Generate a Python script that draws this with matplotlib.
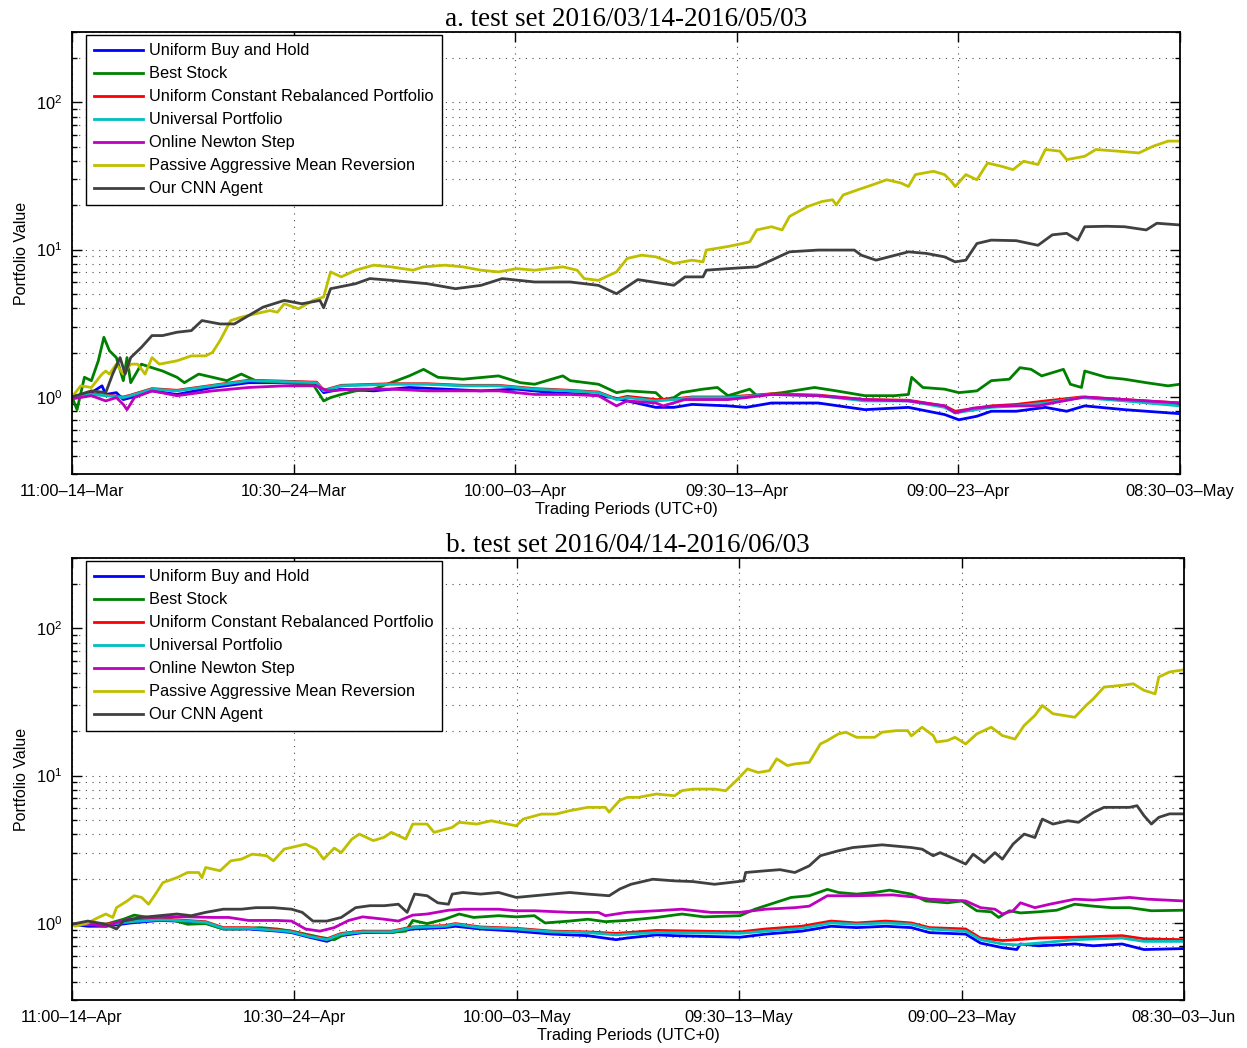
import matplotlib
matplotlib.use("Agg")
import matplotlib.pyplot as plt
from matplotlib.ticker import LogLocator, NullFormatter, FixedLocator

plt.rcParams['font.family'] = ['Liberation Sans', 'DejaVu Sans']

# period index = 30 min trading periods since the first tick
tick_pos = [0, 479, 958, 1437, 1916, 2395]
a_ticklabels = ['11:00–14–Mar', '10:30–24–Mar', '10:00–03–Apr',
                '09:30–13–Apr', '09:00–23–Apr', '08:30–03–May']
b_ticklabels = ['11:00–14–Apr', '10:30–24–Apr', '10:00–03–May',
                '09:30–13–May', '09:00–23–May', '08:30–03–Jun']

names = ['Uniform Buy and Hold', 'Best Stock', 'Uniform Constant Rebalanced Portfolio',
         'Universal Portfolio', 'Online Newton Step', 'Passive Aggressive Mean Reversion',
         'Our CNN Agent']
colors = ['#0000ff', '#008000', '#ff0000', '#00bfbf', '#bf00bf', '#bfbf00', '#404040']

# ---- panel a: (period, portfolio value)
a_ubah = [(0, 1.0), (42, 1.07), (65, 1.19), (73, 1.04), (96, 1.07), (111, 0.96), (127, 0.99),
          (173, 1.10), (227, 1.04), (304, 1.16), (382, 1.25), (459, 1.25), (529, 1.22), (544, 1.07),
          (582, 1.13), (652, 1.10), (729, 1.16), (806, 1.13), (884, 1.10), (961, 1.13), (1038, 1.07),
          (1115, 1.04), (1169, 0.99), (1200, 0.94), (1262, 0.85), (1301, 0.85), (1340, 0.89),
          (1418, 0.87), (1457, 0.85), (1512, 0.91), (1613, 0.91), (1714, 0.82), (1808, 0.85),
          (1886, 0.76), (1917, 0.70), (1956, 0.74), (1987, 0.80), (2041, 0.80), (2104, 0.85),
          (2150, 0.80), (2189, 0.87), (2275, 0.82), (2395, 0.77)]
a_best = [(0, 1.0), (11, 0.82), (27, 1.36), (42, 1.29), (57, 1.76), (69, 2.54), (81, 2.06), (96, 1.85),
          (111, 1.29), (119, 1.85), (127, 1.25), (150, 1.67), (173, 1.58), (196, 1.50), (227, 1.36),
          (243, 1.25), (274, 1.43), (304, 1.36), (335, 1.29), (366, 1.43), (397, 1.29), (459, 1.25),
          (521, 1.22), (544, 0.94), (559, 0.99), (582, 1.04), (613, 1.10), (652, 1.13), (690, 1.25),
          (729, 1.39), (760, 1.54), (791, 1.36), (845, 1.32), (922, 1.39), (969, 1.25), (1000, 1.22),
          (1061, 1.39), (1077, 1.29), (1138, 1.22), (1177, 1.07), (1200, 1.10), (1262, 1.07),
          (1278, 0.96), (1301, 0.99), (1317, 1.07), (1364, 1.13), (1395, 1.16), (1418, 1.02),
          (1465, 1.13), (1480, 1.02), (1535, 1.07), (1605, 1.16), (1652, 1.10), (1714, 1.02),
          (1777, 1.02), (1808, 1.04), (1815, 1.36), (1839, 1.16), (1886, 1.13), (1917, 1.07),
          (1956, 1.10), (1987, 1.29), (2026, 1.32), (2049, 1.58), (2073, 1.54), (2096, 1.39),
          (2143, 1.54), (2158, 1.22), (2182, 1.16), (2189, 1.50), (2236, 1.36), (2275, 1.32),
          (2322, 1.25), (2369, 1.19), (2395, 1.22)]
a_ucrp = [(0, 1.0), (42, 1.05), (73, 1.03), (111, 1.0), (127, 1.03), (173, 1.14), (227, 1.11),
          (304, 1.20), (382, 1.30), (459, 1.28), (529, 1.26), (544, 1.11), (582, 1.20), (690, 1.23),
          (768, 1.23), (845, 1.20), (922, 1.20), (1000, 1.14), (1077, 1.11), (1138, 1.08),
          (1177, 0.97), (1200, 1.01), (1262, 0.96), (1301, 0.97), (1340, 1.0), (1418, 1.0),
          (1512, 1.05), (1613, 1.03), (1714, 0.96), (1808, 0.95), (1886, 0.87), (1909, 0.80),
          (1987, 0.87), (2041, 0.89), (2104, 0.94), (2182, 1.0), (2275, 0.96), (2395, 0.91)]
a_up = [(0, 1.0), (42, 1.04), (73, 1.02), (111, 0.99), (127, 1.02), (173, 1.13), (227, 1.10),
        (304, 1.19), (382, 1.29), (459, 1.27), (529, 1.25), (544, 1.10), (582, 1.19), (690, 1.22),
        (768, 1.22), (845, 1.19), (922, 1.19), (1000, 1.13), (1077, 1.10), (1138, 1.07),
        (1177, 0.96), (1200, 0.99), (1262, 0.94), (1301, 0.96), (1340, 0.99), (1418, 0.99),
        (1512, 1.04), (1613, 1.02), (1714, 0.94), (1808, 0.94), (1886, 0.85), (1909, 0.78),
        (1987, 0.85), (2041, 0.87), (2104, 0.91), (2182, 0.99), (2275, 0.94), (2395, 0.87)]
a_ons = [(0, 0.97), (42, 1.02), (73, 0.94), (96, 0.99), (111, 0.89), (119, 0.82), (135, 0.99),
         (173, 1.10), (227, 1.02), (304, 1.10), (382, 1.16), (459, 1.19), (529, 1.19), (552, 1.10),
         (613, 1.13), (690, 1.13), (768, 1.10), (845, 1.10), (922, 1.10), (1000, 1.04),
         (1077, 1.04), (1138, 1.02), (1177, 0.87), (1200, 0.94), (1262, 0.91), (1278, 0.87),
         (1325, 0.96), (1418, 0.96), (1457, 0.99), (1512, 1.04), (1613, 1.02), (1714, 0.96),
         (1808, 0.94), (1886, 0.87), (1909, 0.78), (1948, 0.84), (2004, 0.87), (2088, 0.87),
         (2119, 0.91), (2189, 1.0), (2275, 0.96), (2395, 0.91)]
a_pamr = [(0, 1.0), (19, 1.19), (42, 1.16), (65, 1.43), (73, 1.50), (81, 1.43), (96, 1.67),
          (111, 1.43), (127, 1.67), (142, 1.67), (158, 1.43), (173, 1.85), (189, 1.67), (227, 1.76),
          (258, 1.90), (289, 1.90), (304, 2.01), (320, 2.41), (343, 3.30), (366, 3.48), (397, 3.67),
          (428, 3.86), (444, 3.76), (459, 4.29), (490, 3.97), (521, 4.52), (544, 4.77), (559, 7.06),
          (582, 6.53), (613, 7.25), (652, 7.84), (690, 7.64), (737, 7.25), (760, 7.64), (806, 7.84),
          (845, 7.64), (884, 7.25), (922, 7.06), (961, 7.43), (1000, 7.25), (1061, 7.64),
          (1092, 7.25), (1107, 6.36), (1138, 6.19), (1177, 7.06), (1200, 8.71), (1231, 9.17),
          (1262, 8.93), (1301, 8.05), (1340, 8.48), (1364, 8.26), (1371, 9.93), (1418, 10.5),
          (1449, 11.0), (1465, 11.3), (1480, 13.6), (1512, 14.3), (1535, 13.6), (1551, 16.8),
          (1590, 19.6), (1621, 21.2), (1644, 21.8), (1652, 20.1), (1667, 23.5), (1699, 25.5),
          (1730, 27.5), (1761, 29.8), (1792, 28.3), (1808, 26.8), (1823, 32.3), (1862, 34.0),
          (1886, 32.3), (1901, 29.0), (1909, 26.8), (1932, 32.3), (1956, 29.8), (1979, 38.7),
          (2010, 36.7), (2034, 34.9), (2057, 39.8), (2088, 37.8), (2104, 47.8), (2135, 46.6),
          (2150, 40.8), (2189, 43.0), (2213, 47.8), (2260, 46.6), (2306, 45.3), (2337, 50.3),
          (2369, 54.5), (2395, 54.5)]
a_cnn = [(0, 1.0), (42, 1.10), (73, 1.07), (88, 1.43), (104, 1.85), (115, 1.43), (127, 1.85),
         (150, 2.17), (173, 2.61), (196, 2.61), (227, 2.75), (258, 2.82), (281, 3.30), (320, 3.13),
         (351, 3.13), (382, 3.57), (413, 4.07), (459, 4.52), (497, 4.29), (536, 4.52), (544, 4.03),
         (559, 5.43), (613, 5.87), (644, 6.36), (690, 6.19), (768, 5.87), (829, 5.43), (884, 5.72),
         (930, 6.36), (1000, 6.03), (1077, 6.03), (1138, 5.72), (1177, 5.02), (1223, 6.26),
         (1301, 5.73), (1325, 6.53), (1364, 6.53), (1371, 7.25), (1418, 7.43), (1480, 7.64),
         (1512, 8.48), (1551, 9.66), (1613, 9.93), (1691, 9.93), (1706, 9.17), (1738, 8.48),
         (1808, 9.66), (1847, 9.42), (1886, 8.93), (1909, 8.26), (1932, 8.48), (1956, 11.0),
         (1987, 11.6), (2041, 11.5), (2088, 10.7), (2119, 12.6), (2150, 12.9), (2174, 11.6),
         (2189, 14.3), (2236, 14.4), (2275, 14.3), (2322, 13.6), (2345, 15.1), (2395, 14.7)]

# ---- panel b
b_ubah = [(0, 0.98), (34, 0.95), (73, 0.95), (127, 1.0), (188, 1.04), (226, 1.03), (288, 1.0),
          (326, 0.91), (380, 0.91), (442, 0.88), (473, 0.86), (511, 0.80), (549, 0.75), (580, 0.82),
          (626, 0.86), (688, 0.86), (734, 0.91), (803, 0.93), (826, 0.95), (880, 0.91), (957, 0.88),
          (1034, 0.84), (1111, 0.82), (1172, 0.77), (1195, 0.79), (1259, 0.83), (1298, 0.82),
          (1439, 0.80), (1494, 0.84), (1572, 0.88), (1635, 0.95), (1690, 0.93), (1753, 0.95),
          (1808, 0.93), (1847, 0.86), (1925, 0.84), (1957, 0.73), (2004, 0.68), (2035, 0.66),
          (2043, 0.72), (2082, 0.70), (2160, 0.72), (2200, 0.70), (2262, 0.72), (2309, 0.66),
          (2395, 0.67)]
b_best = [(0, 0.98), (34, 1.0), (73, 0.98), (111, 1.06), (134, 1.13), (165, 1.09), (211, 1.06),
          (249, 0.98), (288, 0.99), (326, 0.91), (365, 0.91), (404, 0.93), (442, 0.91), (473, 0.88),
          (503, 0.84), (534, 0.80), (565, 0.77), (588, 0.84), (626, 0.88), (673, 0.86), (719, 0.88),
          (734, 1.04), (765, 0.99), (803, 1.06), (834, 1.15), (865, 1.09), (919, 1.12), (957, 1.10),
          (996, 1.12), (1019, 1.0), (1072, 1.03), (1111, 1.06), (1149, 1.02), (1195, 1.04),
          (1259, 1.09), (1314, 1.15), (1361, 1.10), (1439, 1.12), (1471, 1.24), (1549, 1.49),
          (1588, 1.53), (1627, 1.69), (1651, 1.61), (1690, 1.57), (1729, 1.61), (1761, 1.67),
          (1808, 1.57), (1839, 1.41), (1886, 1.37), (1917, 1.41), (1949, 1.21), (1980, 1.19),
          (1996, 1.09), (2019, 1.21), (2043, 1.17), (2082, 1.19), (2121, 1.22), (2160, 1.34),
          (2200, 1.30), (2239, 1.27), (2278, 1.27), (2325, 1.21), (2395, 1.22)]
b_ucrp = [(0, 0.98), (73, 0.98), (127, 1.03), (188, 1.06), (226, 1.05), (288, 1.02), (326, 0.93),
          (380, 0.93), (442, 0.90), (473, 0.88), (511, 0.82), (549, 0.78), (580, 0.85), (626, 0.88),
          (688, 0.88), (734, 0.94), (803, 0.96), (826, 0.99), (880, 0.94), (957, 0.92), (1034, 0.88),
          (1111, 0.87), (1172, 0.85), (1195, 0.86), (1259, 0.89), (1439, 0.87), (1494, 0.91),
          (1572, 0.95), (1635, 1.03), (1690, 1.0), (1753, 1.03), (1808, 1.0), (1847, 0.93),
          (1925, 0.91), (1957, 0.79), (2004, 0.76), (2035, 0.77), (2082, 0.79), (2160, 0.80),
          (2262, 0.82), (2309, 0.78), (2395, 0.77)]
b_up = [(0, 0.98), (73, 0.97), (127, 1.02), (188, 1.05), (226, 1.04), (288, 1.01), (326, 0.92),
        (380, 0.92), (442, 0.89), (473, 0.87), (511, 0.81), (549, 0.77), (580, 0.84), (626, 0.87),
        (688, 0.87), (734, 0.93), (803, 0.95), (826, 0.98), (880, 0.93), (957, 0.91), (1034, 0.87),
        (1111, 0.86), (1172, 0.83), (1195, 0.84), (1259, 0.86), (1439, 0.85), (1494, 0.88),
        (1572, 0.92), (1635, 1.0), (1690, 0.98), (1753, 1.0), (1808, 0.98), (1847, 0.91),
        (1925, 0.88), (1957, 0.77), (2004, 0.72), (2035, 0.71), (2082, 0.73), (2160, 0.77),
        (2262, 0.79), (2309, 0.75), (2395, 0.75)]
b_ons = [(0, 0.98), (34, 0.98), (73, 0.95), (111, 1.04), (150, 1.09), (211, 1.10), (249, 1.10),
         (304, 1.09), (338, 1.09), (380, 1.04), (442, 1.04), (473, 1.03), (503, 0.91), (534, 0.88),
         (565, 0.93), (596, 1.04), (626, 1.10), (673, 1.06), (703, 1.03), (734, 1.13), (765, 1.15),
         (811, 1.22), (842, 1.24), (919, 1.24), (957, 1.21), (996, 1.21), (1072, 1.18), (1134, 1.18),
         (1149, 1.12), (1195, 1.18), (1259, 1.21), (1314, 1.24), (1376, 1.18), (1439, 1.18),
         (1494, 1.24), (1557, 1.27), (1588, 1.30), (1627, 1.53), (1690, 1.53), (1768, 1.55),
         (1823, 1.49), (1847, 1.45), (1925, 1.41), (1957, 1.27), (1988, 1.24), (2004, 1.15),
         (2027, 1.21), (2043, 1.37), (2074, 1.27), (2106, 1.34), (2160, 1.45), (2200, 1.43),
         (2278, 1.49), (2317, 1.45), (2395, 1.41)]
b_pamr = [(0, 0.98), (7, 0.95), (34, 1.0), (57, 1.09), (73, 1.15), (88, 1.09), (96, 1.27),
          (119, 1.41), (134, 1.53), (150, 1.49), (165, 1.34), (180, 1.57), (196, 1.88), (226, 2.03),
          (249, 2.20), (273, 2.20), (280, 2.03), (288, 2.38), (319, 2.26), (342, 2.64), (365, 2.71),
          (388, 2.93), (419, 2.86), (434, 2.64), (457, 3.17), (488, 3.34), (503, 3.43), (526, 3.17),
          (542, 2.71), (565, 3.22), (580, 3.0), (603, 3.71), (619, 4.01), (649, 3.62), (672, 3.81),
          (688, 4.12), (719, 3.71), (734, 4.69), (765, 4.69), (780, 4.12), (819, 4.45), (834, 4.82),
          (872, 4.69), (903, 4.94), (957, 4.56), (972, 5.07), (1011, 5.48), (1042, 5.48),
          (1072, 5.78), (1111, 6.09), (1149, 6.09), (1157, 5.65), (1180, 6.8), (1196, 7.12),
          (1220, 7.12), (1259, 7.50), (1298, 7.3), (1314, 7.91), (1337, 8.1), (1384, 8.1),
          (1408, 7.9), (1431, 9.25), (1455, 11.1), (1478, 10.5), (1502, 10.8), (1518, 13.0),
          (1541, 11.7), (1557, 12.0), (1588, 12.3), (1612, 16.4), (1627, 17.3), (1651, 19.2),
          (1667, 19.7), (1690, 18.2), (1729, 18.2), (1745, 19.7), (1776, 20.2), (1800, 20.2),
          (1808, 18.6), (1831, 21.3), (1855, 18.7), (1862, 16.9), (1886, 17.3), (1902, 18.2),
          (1925, 16.4), (1949, 19.2), (1980, 21.3), (2004, 18.7), (2031, 17.7), (2051, 21.9),
          (2074, 25.6), (2090, 29.9), (2113, 26.3), (2160, 24.9), (2184, 29.9), (2200, 33.2),
          (2223, 39.9), (2262, 41.0), (2286, 42.0), (2309, 37.9), (2333, 35.9), (2341, 46.7),
          (2364, 50.5), (2395, 52.3)]
b_cnn = [(0, 0.98), (34, 1.03), (73, 0.98), (96, 0.91), (111, 1.03), (150, 1.09), (188, 1.12),
         (226, 1.15), (257, 1.12), (288, 1.18), (326, 1.24), (365, 1.24), (396, 1.27), (434, 1.27),
         (473, 1.24), (496, 1.18), (519, 1.03), (549, 1.03), (580, 1.09), (611, 1.27), (642, 1.31),
         (673, 1.31), (703, 1.34), (722, 1.18), (738, 1.57), (765, 1.53), (788, 1.37), (811, 1.34),
         (819, 1.57), (842, 1.61), (880, 1.57), (919, 1.61), (957, 1.49), (996, 1.53), (1034, 1.57),
         (1072, 1.61), (1111, 1.57), (1157, 1.53), (1180, 1.70), (1204, 1.83), (1251, 1.98),
         (1298, 1.93), (1337, 1.91), (1384, 1.83), (1447, 1.93), (1451, 2.2), (1494, 2.26),
         (1525, 2.3), (1557, 2.2), (1588, 2.44), (1612, 2.86), (1651, 3.09), (1682, 3.25),
         (1745, 3.39), (1808, 3.25), (1831, 3.17), (1855, 2.86), (1870, 3.0), (1902, 2.71),
         (1925, 2.51), (1941, 2.93), (1965, 2.57), (1988, 3.0), (2004, 2.71), (2027, 3.43),
         (2051, 4.01), (2074, 3.80), (2090, 5.07), (2113, 4.69), (2145, 4.94), (2168, 4.82),
         (2200, 5.63), (2223, 6.09), (2278, 6.09), (2294, 6.25), (2309, 5.35), (2325, 4.69),
         (2341, 5.21), (2364, 5.5), (2395, 5.5)]

panel_a = [a_ubah, a_best, a_ucrp, a_up, a_ons, a_pamr, a_cnn]
panel_b = [b_ubah, b_best, b_ucrp, b_up, b_ons, b_pamr, b_cnn]

fig = plt.figure(figsize=(12.47, 10.48), dpi=100)
ax_a = fig.add_axes([0.0577, 0.5477, 0.8886, 0.4218])
ax_b = fig.add_axes([0.0577, 0.0458, 0.8917, 0.4218])


def draw(ax, series, ticklabels, title):
    for s, name, c in zip(series, names, colors):
        xs = [p[0] for p in s]
        ys = [p[1] for p in s]
        ax.plot(xs, ys, color=c, lw=2, label=name)
    ax.set_yscale('log')
    ax.set_ylim(0.3, 300)
    ax.set_xlim(tick_pos[0], tick_pos[-1])
    ax.set_yticks([1, 10, 100])
    ax.yaxis.set_minor_locator(LogLocator(base=10, subs=range(2, 10)))
    ax.yaxis.set_minor_formatter(NullFormatter())
    ax.xaxis.set_major_locator(FixedLocator(tick_pos))
    ax.set_xticklabels(ticklabels)
    ax.tick_params(which='both', direction='in', top=True, right=True, labelsize=11.8, pad=7)
    ax.tick_params(which='major', length=7, width=1)
    ax.tick_params(which='minor', length=3.5, width=1)
    ax.grid(which='major', axis='both', color='0.3', linestyle=(0, (1, 5)), lw=0.8)
    ax.grid(which='minor', axis='y', color='0.3', linestyle=(0, (1, 5)), lw=0.8)
    for sp in ax.spines.values():
        sp.set_linewidth(1.3)
    ax.set_xlabel('Trading Periods (UTC+0)', fontsize=11.8, labelpad=2)
    ax.set_ylabel('Portfolio Value', fontsize=11.5, labelpad=5)
    ax.set_title(title, family='Liberation Serif', fontsize=19.5, pad=3)
    leg = ax.legend(loc='upper left', bbox_to_anchor=(0.0126, 0.993), borderaxespad=0,
                    fontsize=11.8, handlelength=3.0, handletextpad=0.35, labelspacing=0.49,
                    borderpad=0.5, fancybox=False, framealpha=1, edgecolor='black')
    leg.get_frame().set_linewidth(1.0)


draw(ax_a, panel_a, a_ticklabels, 'a. test set 2016/03/14-2016/05/03')
draw(ax_b, panel_b, b_ticklabels, 'b. test set 2016/04/14-2016/06/03')

fig.savefig('out.png', dpi=100)
